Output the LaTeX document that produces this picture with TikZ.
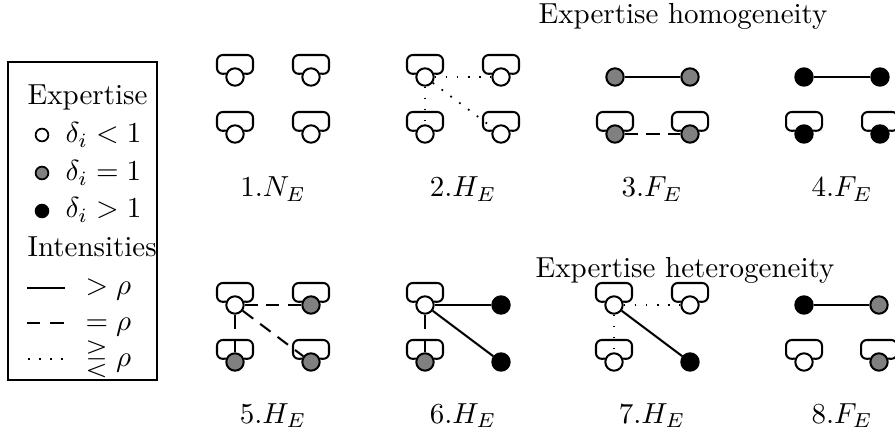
\documentclass[tikz,border=0pt]{standalone}
\usepackage{amssymb}
\pgfdeclarelayer{bg}
\pgfsetlayers{bg,main}
\begin{document}
\begin{tikzpicture}[x=0.345pt,y=-0.345pt,
  agent/.style={circle,draw,line width=0.7pt,minimum size=6pt,inner sep=0pt},
  low/.style={agent,fill=white},
  mid/.style={agent,fill=gray},
  high/.style={agent,fill=black},
  keyagent/.style={circle,draw,line width=0.6pt,minimum size=4.4pt,inner sep=0pt},
  link/.style={line width=0.7pt},
  strong/.style={link},
  strongbroken/.style={link,dash pattern=on 4.9pt off 3.8pt on 30pt off 1pt},
  equal/.style={link,dash pattern=on 4.5pt off 3pt},
  weak/.style={line width=0.6pt,dash pattern=on 0.6pt off 3.2pt},
  txt/.style={inner sep=0pt},
]
\useasboundingbox (0,0) rectangle (895,437);
\clip (0,0) rectangle (895,437);

% self-loop of an agent: a rounded frame resting on top of its circle
\newcommand\agentloop[1]{%
  \draw[link,rounded corners=2pt] (#1.160) -- ([shift={(-18,-3)}]#1.center)
    -- ([shift={(-18,-22)}]#1.center) -- ([shift={(18,-22)}]#1.center)
    -- ([shift={(18,-3)}]#1.center) -- (#1.20);}

% ---------------- headings ----------------
\node[txt,anchor=base] (homtitle) at (683,24) {Expertise homogeneity};
\node[txt,anchor=base] (hettitle) at (685,278) {Expertise heterogeneity};

% ---------------- legend ----------------
\draw[line width=0.7pt] (8,62) rectangle (157,380);
\node[txt,anchor=base west] (kexp) at (27,105) {Expertise};
\node[keyagent,fill=white] (klow) at (42,135) {};
\node[txt,anchor=base west] (klowt) at (65,143) {$\delta_i<1$};
\node[keyagent,fill=gray] (kmid) at (42,173) {};
\node[txt,anchor=base west] (kmidt) at (65,181) {$\delta_i=1$};
\node[keyagent,fill=black] (khigh) at (42,211) {};
\node[txt,anchor=base west] (khight) at (65,218) {$\delta_i>1$};
\node[txt,anchor=base west] (kint) at (27,257) {Intensities};
\coordinate (ks1) at (27,288); \coordinate (ks2) at (65,288);
\draw[strong] (ks1) -- (ks2);
\node[txt,anchor=base west] (kst) at (85,295) {$>\rho$};
\coordinate (ke1) at (27,323); \coordinate (ke2) at (65,323);
\draw[link,dash pattern=on 4.6pt off 3.4pt] (ke1) -- (ke2);
\node[txt,anchor=base west] (ket) at (85,330) {$=\rho$};
\coordinate (kw1) at (28,359); \coordinate (kw2) at (66,359);
\draw[weak] (kw1) -- (kw2);
\node[txt,anchor=base west] (kwt) at (85,366) {$\gtreqless\rho$};

% ---------------- panel 1 ----------------
\node[low] (p1a) at (235,77) {};  \node[low] (p1b) at (311,77) {};
\node[low] (p1c) at (235,134) {}; \node[low] (p1d) at (311,134) {};
\node[txt,anchor=base] (l1) at (273,197) {$1.N_E$};
% ---------------- panel 2 ----------------
\node[low] (p2a) at (425,77) {};  \node[low] (p2b) at (501,77) {};
\node[low] (p2c) at (425,134) {}; \node[low] (p2d) at (501,134) {};
\node[txt,anchor=base] (l2) at (463,197) {$2.H_E$};
% ---------------- panel 3 ----------------
\node[mid] (p3a) at (615,77) {};  \node[mid] (p3b) at (690,77) {};
\node[mid] (p3c) at (615,134) {}; \node[mid] (p3d) at (690,134) {};
\node[txt,anchor=base] (l3) at (652,197) {$3.F_E$};
% ---------------- panel 4 ----------------
\node[high] (p4a) at (804,77) {};  \node[high] (p4b) at (880,77) {};
\node[high] (p4c) at (804,134) {}; \node[high] (p4d) at (880,134) {};
\node[txt,anchor=base] (l4) at (842,197) {$4.F_E$};
% ---------------- panel 5 ----------------
\node[low] (p5a) at (235,305) {}; \node[mid] (p5b) at (311,305) {};
\node[mid] (p5c) at (235,362) {}; \node[mid] (p5d) at (311,362) {};
\node[txt,anchor=base] (l5) at (273,423) {$5.H_E$};
% ---------------- panel 6 ----------------
\node[low] (p6a) at (425,305) {};  \node[high] (p6b) at (501,305) {};
\node[mid] (p6c) at (425,362) {};  \node[high] (p6d) at (501,362) {};
\node[txt,anchor=base] (l6) at (463,423) {$6.H_E$};
% ---------------- panel 7 ----------------
\node[low] (p7a) at (614,305) {};  \node[low] (p7b) at (690,305) {};
\node[low] (p7c) at (614,362) {};  \node[high] (p7d) at (690,362) {};
\node[txt,anchor=base] (l7) at (652,423) {$7.H_E$};
% ---------------- panel 8 ----------------
\node[high] (p8a) at (804,305) {}; \node[mid] (p8b) at (879,305) {};
\node[low] (p8c) at (804,362) {};  \node[mid] (p8d) at (879,362) {};
\node[txt,anchor=base] (l8) at (842,423) {$8.F_E$};

\begin{pgfonlayer}{bg}
  % self-loops
  \agentloop{p1a}\agentloop{p1b}\agentloop{p1c}\agentloop{p1d}
  \agentloop{p2a}\agentloop{p2b}\agentloop{p2c}\agentloop{p2d}
  \agentloop{p3c}\agentloop{p3d}
  \agentloop{p4c}\agentloop{p4d}
  \agentloop{p5a}\agentloop{p5b}\agentloop{p5c}\agentloop{p5d}
  \agentloop{p6a}\agentloop{p6c}
  \agentloop{p7a}\agentloop{p7b}\agentloop{p7c}
  \agentloop{p8c}\agentloop{p8d}
  % interactions
  \draw[weak] (p2a) -- (p2b);
  \draw[weak] (p2a) -- (p2c);
  \draw[weak] (p2a) -- (p2d);
  \draw[strong] (p3a) -- (p3b);
  \draw[equal] (p3c) -- (p3d);
  \draw[strong] (p4a) -- (p4b);
  \draw[equal] (p5a) -- (p5b);
  \draw[strongbroken] (p5a) -- (p5c);
  \draw[equal] (p5a) -- (p5d);
  \draw[strong] (p6a) -- (p6b);
  \draw[strongbroken] (p6a) -- (p6c);
  \draw[strong] (p6a) -- (p6d);
  \draw[weak] (p7a) -- (p7b);
  \draw[weak] (p7a) -- (p7c);
  \draw[strong] (p7a) -- (p7d);
  \draw[strong] (p8a) -- (p8b);
\end{pgfonlayer}
\end{tikzpicture}
\end{document}
